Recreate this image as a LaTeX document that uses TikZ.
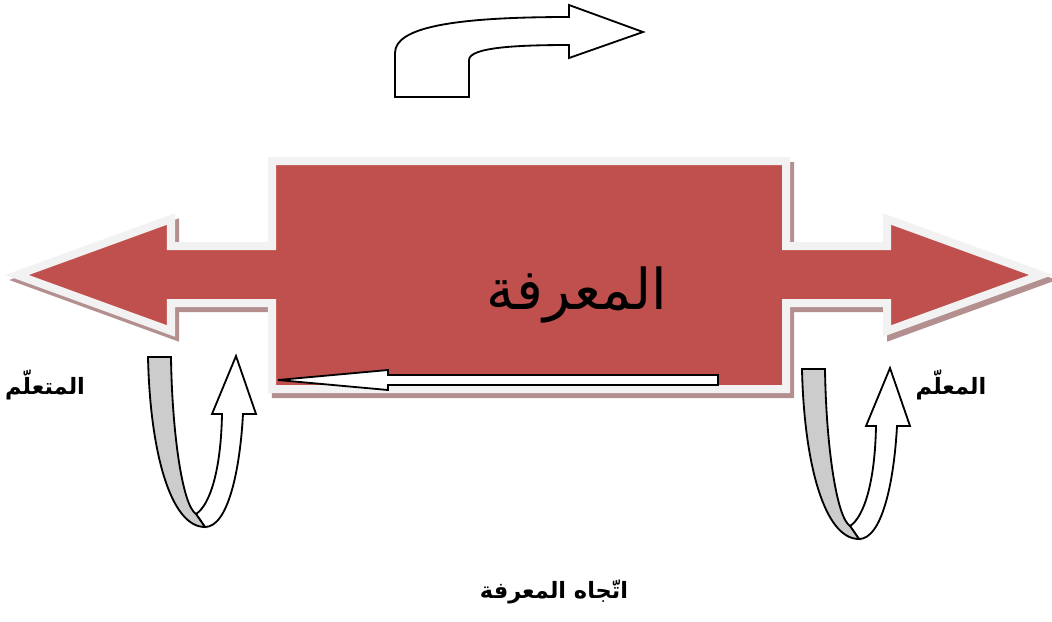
\documentclass[tikz,border=0pt]{standalone}
\usepackage{fontspec}
\newfontfamily\arabicfont[Script=Arabic]{DejaVu Sans}
\TeXXeTstate=1
\usepackage{tikz}
\usetikzlibrary{positioning}

\definecolor{knowred}{HTML}{C0504D}
\definecolor{rimgray}{HTML}{F2F2F2}
\definecolor{shadowrose}{HTML}{B38F8F}
\definecolor{bandgray}{HTML}{CCCCCC}

\begin{document}
\begin{tikzpicture}[x=0.025cm,y=-0.025cm,line join=miter,
  bigshape/.style={fill=knowred,draw=rimgray,line width=5.7pt},
  shadowshape/.style={fill=shadowrose,draw=shadowrose,line width=5.7pt},
  outlined/.style={fill=white,draw=black,line width=1.3pt},
  band/.style={fill=bandgray,draw=black,line width=1.3pt},
  arlabel/.style={font={\arabicfont\bfseries\fontsize{16}{19}\selectfont}}]
  \useasboundingbox (0,0) rectangle (1052,621);
  % bent arrow on top
  \draw[outlined] (395,97) -- (395,53) .. controls (395,28) and (450,17) .. (569,17)
    -- (569,5) -- (643,32) -- (569,58) -- (569,45)
    .. controls (520,45) and (469,47) .. (469,60) -- (469,97) -- cycle;
  % double arrow with box, shadow first
  \foreach \s/\dx/\dy in {shadowshape/4/5, bigshape/0/0}{
    \draw[\s,shift={(\dx,\dy)}] (17,275) -- (171,219) -- (171,246) -- (272,246)
      -- (272,161) -- (786,161) -- (786,246) -- (887,246) -- (887,219)
      -- (1041,275) -- (887,331) -- (887,303) -- (786,303) -- (786,389)
      -- (272,389) -- (272,303) -- (171,303) -- (171,331) -- cycle;
  }
  \node[font={\arabicfont\fontsize{40}{46}\selectfont}] (knowledge) at (577,295) {\beginR المعرفة\endR};
  % arrow inside the box
  \draw[outlined] (278,380) -- (388,370) -- (388,375) -- (718,375) -- (718,385)
    -- (388,385) -- (388,390) -- cycle;
  % u-turn arrows
  \foreach \dx/\dy in {0/0, 654/12}{
    \begin{scope}[shift={(\dx,\dy)}]
      \draw[outlined] (205,527) .. controls (228,527) and (240,470) .. (243,414)
        -- (256,414) -- (236,356) -- (212,414) -- (222,414)
        .. controls (221,470) and (210,505) .. (196,514) -- cycle;
      \draw[band] (148,357) .. controls (150,450) and (170,527) .. (205,527)
        -- (196,514) .. controls (182,505) and (172,430) .. (171,357) -- cycle;
    \end{scope}
  }
  % labels
  \node[arlabel] (learner) at (45,385) {\beginR المتعلّم\endR};
  \node[arlabel] (teacher) at (951,385) {\beginR المعلّم\endR};
  \node[arlabel] (direction) at (554,592) {\beginR اتّجاه المعرفة\endR};
\end{tikzpicture}
\end{document}
